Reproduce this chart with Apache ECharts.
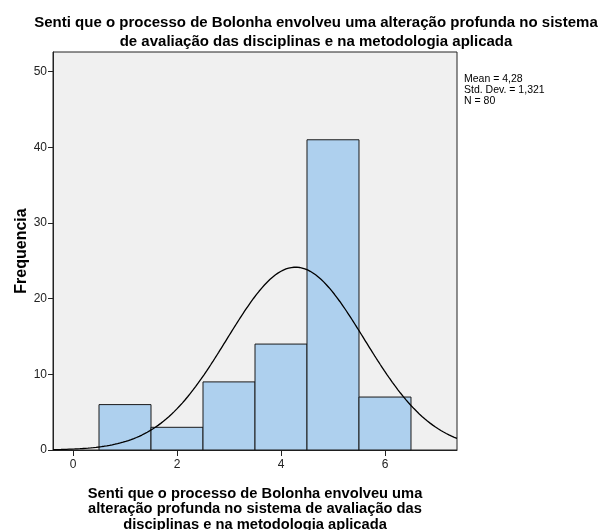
<!DOCTYPE html>
<html><head><meta charset="utf-8">
<script src="https://cdn.jsdelivr.net/npm/echarts@6/dist/echarts.min.js"></script>
<style>html,body{margin:0;padding:0;background:#fff}#c{width:608px;height:530px}</style>
</head><body><div id="c"></div>
<script>
const binCenters = [1, 2, 3, 4, 5, 6];
const frequencies = [6, 3, 9, 14, 41, 7];
const xTicks = [0, 2, 4, 6];
const yTicks = [0, 10, 20, 30, 40, 50];
const statMean = 4.28, statSD = 1.321, statN = 80, binWidth = 1;
const statLines = ['Mean = 4,28', 'Std. Dev. = 1,321', 'N = 80'];
const titleText = 'Senti que o processo de Bolonha envolveu uma alteração profunda no sistema\nde avaliação das disciplinas e na metodologia aplicada';
const xName = 'Senti que o processo de Bolonha envolveu uma\nalteração profunda no sistema de avaliação das\ndisciplinas e na metodologia aplicada';
const yName = 'Frequencia';

const xMin = -0.385, xMax = 7.385, yMax = 52.6;
// fitted normal curve from the stated mean / sd / N
const curve = [];
for (let i = 0; i <= 300; i++) {
  const x = xMin + (xMax - xMin) * i / 300;
  const z = (x - statMean) / statSD;
  curve.push([x, statN * binWidth / (statSD * Math.sqrt(2 * Math.PI)) * Math.exp(-0.5 * z * z)]);
}
const barData = binCenters.map((c, i) => [c, frequencies[i]]);

const chart = echarts.init(document.getElementById('c'));
const font = '"Liberation Sans", Arial, sans-serif';
chart.setOption({
  animation: false,
  title: {
    text: titleText, left: 311, top: 8, textAlign: 'center',
    textStyle: {fontFamily: font, fontSize: 15, fontWeight: 'bold', color: '#000', lineHeight: 19}
  },
  grid: {left: 53, right: 151, top: 52, bottom: 80, outerBoundsMode: 'none', containLabel: false,
    show: true, backgroundColor: '#f0f0f0', borderColor: '#222', borderWidth: 1},
  xAxis: {
    type: 'value', min: xMin, max: xMax,
    name: xName, nameLocation: 'middle', nameGap: 36, nameMoveOverlap: false,
    nameTextStyle: {fontFamily: font, fontSize: 14.7, fontWeight: 'bold', color: '#000', lineHeight: 15.5},
    axisLine: {show: true, onZero: false, lineStyle: {color: '#222'}},
    axisTick: {show: true, length: 6, customValues: xTicks, lineStyle: {color: '#222'}},
    axisLabel: {customValues: xTicks, fontFamily: font, fontSize: 12, color: '#222', margin: 9},
    splitLine: {show: false}
  },
  yAxis: {
    type: 'value', min: 0, max: yMax,
    name: yName, nameLocation: 'middle', nameGap: 23, nameMoveOverlap: false,
    nameTextStyle: {fontFamily: font, fontSize: 16, fontWeight: 'bold', color: '#000'},
    axisLine: {show: true, onZero: false, lineStyle: {color: '#222'}},
    axisTick: {show: true, length: 5, customValues: yTicks, lineStyle: {color: '#222'}},
    axisLabel: {customValues: yTicks, fontFamily: font, fontSize: 12, color: '#222', margin: 6},
    splitLine: {show: false}
  },
  graphic: [{
    type: 'text', left: 464, top: 74,
    style: {text: statLines.join('\n'), font: '10.5px ' + font, fill: '#000', lineHeight: 11}
  }],
  series: [{
    type: 'custom',
    data: barData,
    renderItem: function (params, api) {
      const c = api.value(0), v = api.value(1);
      const p0 = api.coord([c - binWidth / 2, v]);
      const p1 = api.coord([c + binWidth / 2, 0]);
      return {type: 'rect', shape: {x: p0[0], y: p0[1], width: p1[0] - p0[0], height: p1[1] - p0[1]},
        style: {fill: '#aed0ee', stroke: '#1a1a1a', lineWidth: 1}};
    },
    z: 2
  }, {
    type: 'line', data: curve, showSymbol: false, smooth: false,
    lineStyle: {color: '#000', width: 1.3}, z: 3
  }]
});
</script></body></html>
